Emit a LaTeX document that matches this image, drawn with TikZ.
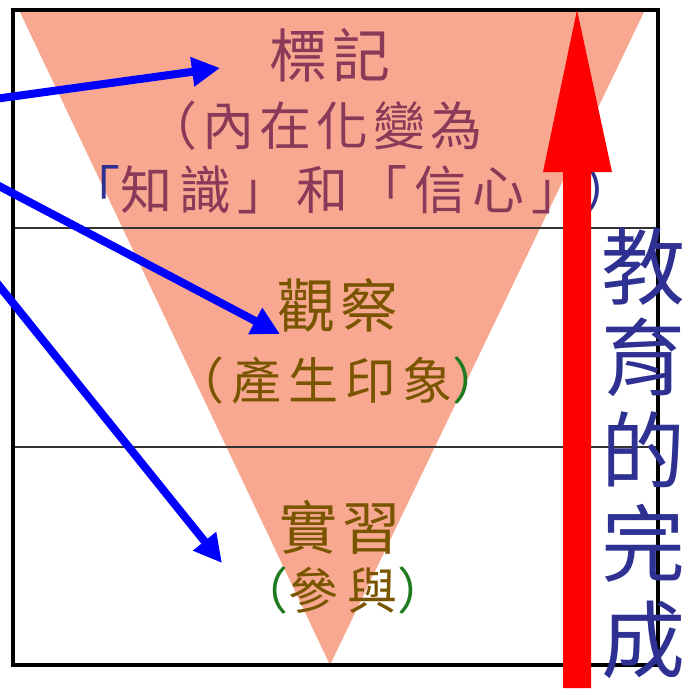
\documentclass[tikz,border=0pt]{standalone}
\usepackage{fontspec}
\newfontfamily\cjk{Noto Sans CJK TC}
\usetikzlibrary{arrows.meta}
\definecolor{salmon}{HTML}{F8A890}
\definecolor{maroon}{HTML}{8A3A58}
\definecolor{olive}{HTML}{7A5500}
\definecolor{leaf}{HTML}{1E7A1E}
\definecolor{navy}{HTML}{2E3192}
\tikzset{
  lbl/.style={inner sep=0pt, anchor=center, font=\cjk},
  bluearrow/.style={draw=blue, line width=8pt, -{Triangle[length=28pt,width=28pt]}},
}
\begin{document}
\begin{tikzpicture}[x=1pt,y=-1pt]
\useasboundingbox (0,0) rectangle (693,695);
% triangle
\fill[salmon] (19,10) -- (645,10) -- (330,665) -- cycle;
% band lines
\draw[line width=1.2pt, black!80] (13,228) -- (658,228);
\draw[line width=1.2pt, black!80] (13,447) -- (658,447);
% frame
\draw[line width=3.5pt] (13,10) rectangle (658,665);
% texts
\node[lbl, text=maroon, font=\cjk\fontsize{58}{60}\selectfont\addfontfeature{LetterSpace=8}] (t1) at (330,55) {標記};
\node[lbl, text=maroon, font=\cjk\fontsize{52}{54}\selectfont\addfontfeature{LetterSpace=10}] (t2) at (314,126) {（內在化變為};
\node[lbl, text=maroon, font=\cjk\fontsize{52}{54}\selectfont\addfontfeature{LetterSpace=13}] (t3) at (352,190) {\textcolor{navy}{「}知識」和「信心」\textcolor{navy}{）}};
\node[lbl, text=olive, font=\cjk\fontsize{58}{60}\selectfont\addfontfeature{LetterSpace=8}] (o1) at (338,305) {觀察};
\node[lbl, text=olive, font=\cjk\fontsize{50}{52}\selectfont\addfontfeature{LetterSpace=14}] (o2) at (338,380) {（產生印象\textcolor{leaf}{）}};
\node[lbl, text=olive, font=\cjk\fontsize{58}{60}\selectfont\addfontfeature{LetterSpace=8}] (p1) at (340,527) {實習};
\node[lbl, text=olive, font=\cjk\fontsize{50}{52}\selectfont\addfontfeature{LetterSpace=18}] (p2) at (343,590) {\textcolor{leaf}{（}參與\textcolor{leaf}{）}};
% blue arrows
\coordinate (s1) at (-20,101);
\coordinate (e1) at (220,68);
\coordinate (s2) at (-20,176);
\coordinate (e2) at (280,334);
\coordinate (s3) at (-20,262);
\coordinate (e3) at (222,563);
\draw[bluearrow] (s1) -- (e1);
\draw[bluearrow] (s2) -- (e2);
\draw[bluearrow] (s3) -- (e3);
% red arrow
\fill[red] (577,10) -- (612,172) -- (591,172) -- (591,688) -- (563,688) -- (563,172) -- (543,172) -- cycle;
% vertical text
\node[lbl, text=navy, font=\cjk\fontsize{84}{86}\selectfont] (v1) at (643,267) {教};
\node[lbl, text=navy, font=\cjk\fontsize{84}{86}\selectfont] (v2) at (643,357) {育};
\node[lbl, text=navy, font=\cjk\fontsize{84}{86}\selectfont] (v3) at (643,450) {的};
\node[lbl, text=navy, font=\cjk\fontsize{84}{86}\selectfont] (v4) at (643,543) {完};
\node[lbl, text=navy, font=\cjk\fontsize{84}{86}\selectfont] (v5) at (643,640) {成};
\end{tikzpicture}
\end{document}
